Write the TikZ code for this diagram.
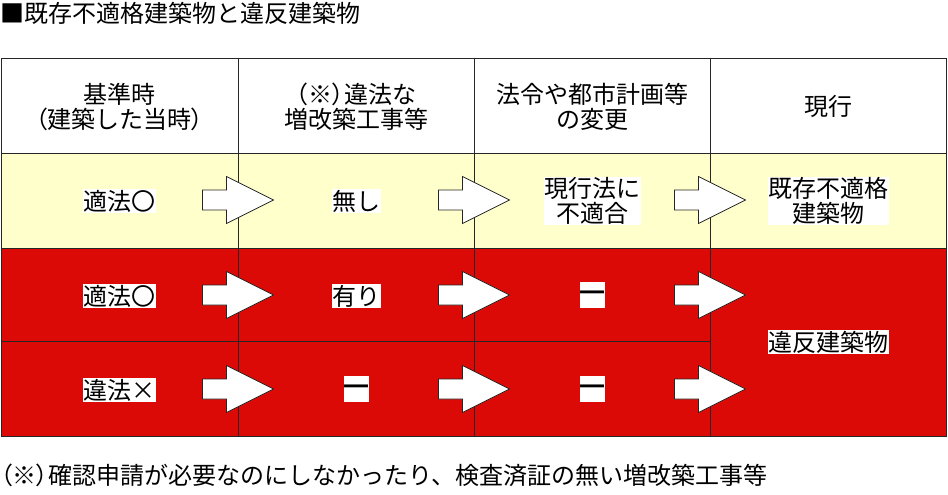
\documentclass[tikz,border=0pt]{standalone}
\usepackage{fontspec}
\setmainfont{Noto Sans CJK JP}
\newfontfamily\propfont[RawFeature=+palt]{Noto Sans CJK JP}
\newcommand{\pp}[1]{{\propfont #1}}
\begin{document}
\begin{tikzpicture}[x=1pt,y=-1pt,
  gridline/.style={draw=black!85, line width=1pt},
  hdr/.style={align=center, font=\fontsize{24}{25}\selectfont, inner sep=0pt},
  lbl/.style={align=center, font=\fontsize{24}{25}\selectfont, fill=white, inner sep=0.5pt},
  dashlbl/.style={lbl, text height=19pt, text depth=6pt, inner sep=0.5pt},
  arrowline/.style={draw=black!85, line width=0.8pt, fill=white, line join=miter},
  blockarrow/.pic={\path[arrowline] (-35.5,-10) -- (-11.5,-10) -- (-11.5,-23.5) -- (35.5,0) -- (-11.5,23.5) -- (-11.5,10) -- (-35.5,10) -- cycle;}
]
\definecolor{tblyellow}{HTML}{FFFFCC}
\definecolor{tblred}{HTML}{DC0A06}
\useasboundingbox (0,0) rectangle (948,495);
% title
\node[anchor=west, inner sep=0pt, font=\fontsize{24}{25}\selectfont] (title) at (0,13) {■既存不適格建築物と違反建築物};
% fills
\fill[white] (1,59) rectangle (946,153);
\fill[tblyellow] (1,153) rectangle (946,248);
\fill[tblred] (1,248) rectangle (946,436);
% grid
\draw[gridline] (1,59) rectangle (946,436);
\draw[gridline] (1,153) -- (946,153);
\draw[gridline] (1,248) -- (946,248);
\draw[gridline] (1,341) -- (710,341);
\draw[gridline] (238,59) -- (238,436);
\draw[gridline] (474,59) -- (474,436);
\draw[gridline] (710,59) -- (710,436);
% header
\node[hdr] (h1) at (119.5,107) {基準時\\\pp{（}建築した当時\pp{）}};
\node[hdr] (h2) at (356,107) {\pp{（}※\pp{）}違法な\\増改築工事等};
\node[hdr] (h3) at (592,107) {法令や都市計画等\\の変更};
\node[hdr] (h4) at (828,106) {現行};
% arrows
\foreach \x in {238,474,710}{
  \foreach \y in {200,295,389}{
    \pic at (\x,\y) {blockarrow};
  }
}
% row 1
\node[lbl] (a1) at (119.5,201) {適法〇};
\node[lbl] (b1) at (356,201) {無し};
\node[lbl] (c1) at (592,201) {現行法に\\不適合};
\node[lbl] (d1) at (828,201) {既存不適格\\建築物};
% row 2
\node[lbl] (a2) at (119.5,296) {適法〇};
\node[lbl] (b2) at (356,296) {有り};
\node[dashlbl] (c2) at (592,295) {━};
% row 3
\node[lbl] (a3) at (119.5,390) {違法×};
\node[dashlbl] (b3) at (356,389) {━};
\node[dashlbl] (c3) at (592,389) {━};
% merged
\node[lbl] (d2) at (828,342) {違反建築物};
% footnote
\node[anchor=base west, inner sep=0pt, text height=20pt, text depth=4pt, font=\fontsize{24}{25}\selectfont] (note) at (0,484) {\pp{（}※\pp{）}確認申請が必要なのにしなかったり、検査済証の無い増改築工事等};
\end{tikzpicture}
\end{document}
